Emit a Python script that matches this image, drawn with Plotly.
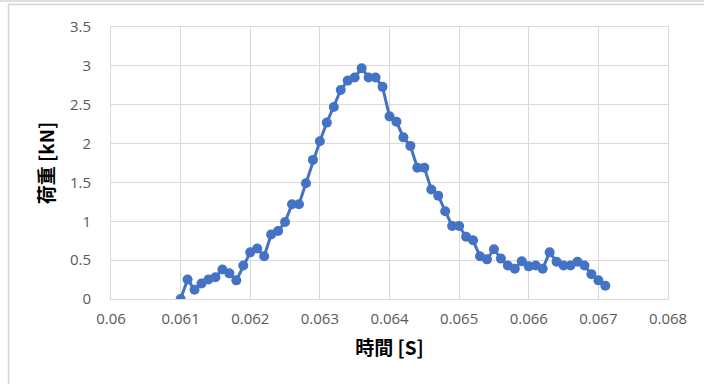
import plotly.graph_objects as go

time_s = [0.0610, 0.0611, 0.0612, 0.0613, 0.0614, 0.0615, 0.0616, 0.0617, 0.0618, 0.0619,
          0.0620, 0.0621, 0.0622, 0.0623, 0.0624, 0.0625, 0.0626, 0.0627, 0.0628, 0.0629,
          0.0630, 0.0631, 0.0632, 0.0633, 0.0634, 0.0635, 0.0636, 0.0637, 0.0638, 0.0639,
          0.0640, 0.0641, 0.0642, 0.0643, 0.0644, 0.0645, 0.0646, 0.0647, 0.0648, 0.0649,
          0.0650, 0.0651, 0.0652, 0.0653, 0.0654, 0.0655, 0.0656, 0.0657, 0.0658, 0.0659,
          0.0660, 0.0661, 0.0662, 0.0663, 0.0664, 0.0665, 0.0666, 0.0667, 0.0668, 0.0669,
          0.0670, 0.0671]
load_kn = [0.00, 0.25, 0.12, 0.20, 0.25, 0.28, 0.38, 0.33, 0.24, 0.43,
           0.60, 0.65, 0.55, 0.83, 0.875, 0.99, 1.22, 1.22, 1.49, 1.79,
           2.03, 2.27, 2.47, 2.69, 2.81, 2.85, 2.97, 2.85, 2.85, 2.73,
           2.35, 2.28, 2.08, 1.97, 1.69, 1.69, 1.41, 1.33, 1.13, 0.94,
           0.94, 0.80, 0.755, 0.55, 0.51, 0.64, 0.52, 0.43, 0.39, 0.485,
           0.42, 0.43, 0.39, 0.60, 0.48, 0.43, 0.43, 0.48, 0.43, 0.32,
           0.24, 0.17]

x_ticks = [0.060, 0.061, 0.062, 0.063, 0.064, 0.065, 0.066, 0.067, 0.068]
x_tick_text = ["0.06", "0.061", "0.062", "0.063", "0.064", "0.065", "0.066", "0.067", "0.068"]
y_ticks = [0, 0.5, 1, 1.5, 2, 2.5, 3, 3.5]
y_tick_text = ["0", "0.5", "1", "1.5", "2", "2.5", "3", "3.5"]

BLUE = "#4472C4"
GRID = "#d9d9d9"
TICK_FONT = dict(family="Open Sans, Liberation Sans, sans-serif", size=15, color="#595959")
TITLE_FONT = dict(family="Noto Sans CJK JP, sans-serif", size=19, color="#000000")

fig = go.Figure()
fig.add_trace(go.Scatter(
    x=time_s, y=load_kn, mode="lines+markers",
    line=dict(color=BLUE, width=3),
    marker=dict(color=BLUE, size=10),
    showlegend=False,
))

W, H = 704, 384
L, R, T, B = 111, 36, 27, 85
pw, ph = W - L - R, H - T - B

def px(xp):
    return (xp - L) / pw

def py(yp):
    return (H - B - yp) / ph

fig.update_layout(
    width=W, height=H,
    margin=dict(l=L, r=R, t=T, b=B),
    paper_bgcolor="white", plot_bgcolor="white",
    xaxis=dict(
        range=[0.060, 0.068], tickvals=x_ticks, ticktext=x_tick_text,
        showgrid=True, gridcolor=GRID, gridwidth=1,
        showline=True, linecolor=GRID, linewidth=1, mirror=True,
        zeroline=False, tickfont=TICK_FONT, ticks="", ticklabelstandoff=6,
        title=dict(text="<b>時間 [S]</b>", font=TITLE_FONT, standoff=14),
    ),
    yaxis=dict(
        range=[0, 3.5], tickvals=y_ticks, ticktext=y_tick_text,
        showgrid=True, gridcolor=GRID, gridwidth=1,
        showline=True, linecolor=GRID, linewidth=1, mirror=True,
        zeroline=False, tickfont=TICK_FONT, ticks="", ticklabelstandoff=16,
        title=dict(text="<b>荷重 [kN]</b>", font=TITLE_FONT, standoff=10),
    ),
    shapes=[
        dict(type="line", xref="paper", yref="paper", x0=px(0), x1=px(W), y0=py(1), y1=py(1),
             line=dict(color="#d4d4d4", width=1.5)),
        dict(type="line", xref="paper", yref="paper", x0=px(8), x1=px(W), y0=py(4.5), y1=py(4.5),
             line=dict(color="#d4d4d4", width=1.5)),
        dict(type="line", xref="paper", yref="paper", x0=px(8.5), x1=px(8.5), y0=py(4.5), y1=py(H),
             line=dict(color="#d4d4d4", width=1.5)),
    ],
)

fig.write_html("out.html")
